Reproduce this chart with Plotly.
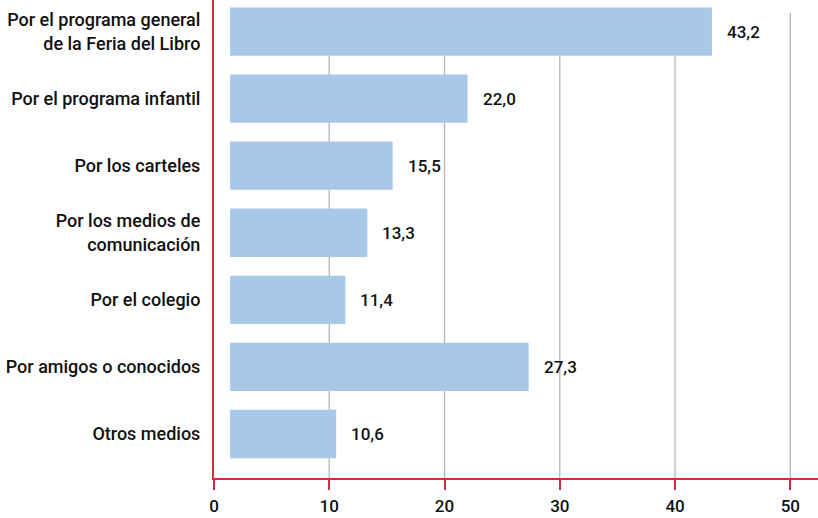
import plotly.graph_objects as go

categories = [
    "Por el programa general<br>de la Feria del Libro",
    "Por el programa infantil",
    "Por los carteles",
    "Por los medios de<br>comunicación",
    "Por el colegio",
    "Por amigos o conocidos",
    "Otros medios",
]
values = [43.2, 22.0, 15.5, 13.3, 11.4, 27.3, 10.6]
value_labels = ["43,2", "22,0", "15,5", "13,3", "11,4", "27,3", "10,6"]
x_ticks = [0, 10, 20, 30, 40, 50]

BAR_START = 1.4
RED = "#d42b45"
FONT = "Roboto, Liberation Sans, Arial, sans-serif"

fig = go.Figure()
fig.add_trace(go.Bar(
    y=categories,
    x=[v - BAR_START for v in values],
    base=BAR_START,
    orientation="h",
    marker=dict(color="#a8c8ea", line=dict(width=0)),
    hoverinfo="skip",
))

for c, v, t in zip(categories, values, value_labels):
    fig.add_annotation(x=v, y=c, text=t, showarrow=False, xanchor="left",
                       xshift=13, font=dict(family=FONT, size=17, color="#111111", weight=500))

for t in x_ticks[1:]:
    fig.add_shape(type="line", xref="x", yref="paper", x0=t, x1=t, y0=0, y1=0.973,
                  line=dict(color="#b5b5b5", width=1.3), layer="below")

fig.update_layout(
    width=818, height=518,
    margin=dict(l=214, r=0, t=0, b=40),
    plot_bgcolor="white", paper_bgcolor="white",
    showlegend=False,
    bargap=0.28,
    font=dict(family=FONT, size=18, color="#111111"),
)
fig.update_xaxes(
    range=[0, 52.4], tickvals=x_ticks, ticktext=[str(t) for t in x_ticks],
    showgrid=False, zeroline=False, automargin=False,
    showline=True, linecolor=RED, linewidth=2,
    ticks="outside", ticklen=10, tickwidth=2, tickcolor=RED,
    ticklabelstandoff=2,
    tickfont=dict(family=FONT, size=17, color="#111111", weight=500),
)
fig.update_yaxes(
    categoryorder="array", categoryarray=categories,
    range=[6.656, -0.47],
    showgrid=False, zeroline=False, automargin=False,
    showline=True, linecolor=RED, linewidth=2,
    ticks="", ticklabelstandoff=8,
    tickfont=dict(family=FONT, size=18, color="#111111", weight=500),
)

fig.write_html("out.html", config={"displayModeBar": False},
               post_script="document.body.style.margin='0';")
